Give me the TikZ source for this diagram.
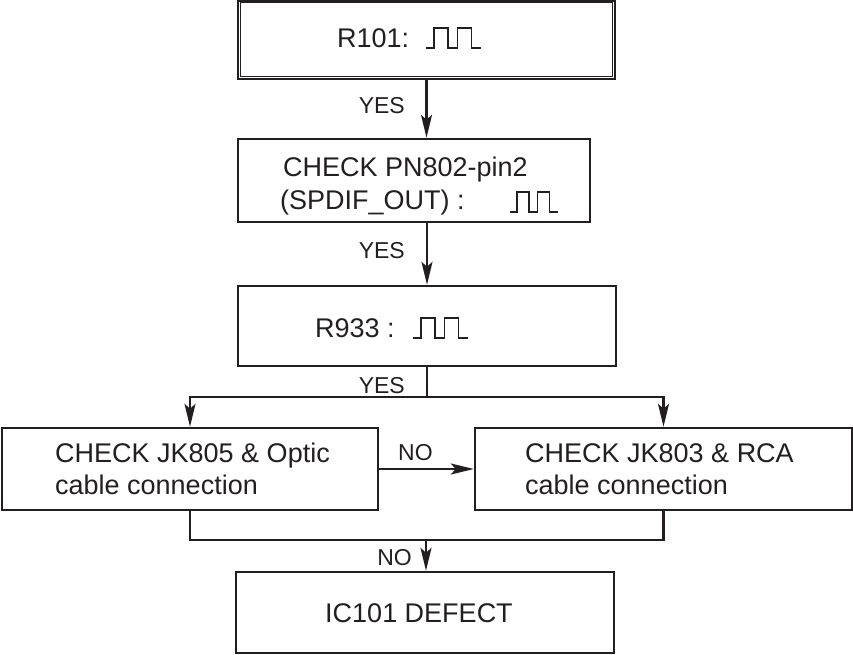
\documentclass[tikz,border=0pt]{standalone}
\usepackage{fontspec}
\setmainfont{Liberation Sans}
\usetikzlibrary{arrows.meta}
\definecolor{ink}{HTML}{231F20}
\begin{document}
\begin{tikzpicture}[x=1pt,y=-1pt,
  box/.style={draw=ink, line width=2.4pt, inner sep=0pt},
  txt/.style={text=ink, font=\fontsize{27}{32}\selectfont, inner sep=0pt},
  lbl/.style={text=ink, font=\fontsize{23}{28}\selectfont, inner sep=0pt},
  link/.style={draw=ink, line width=2.4pt, line cap=rect},
  arr/.style={link, -{Stealth[length=23pt,width=11pt,inset=5pt]}},
  pulse/.pic={\draw[ink, line width=1.3pt, line join=miter]
     (0,0) -- (8,0) -- (8,-20) -- (22,-20) -- (22,0) -- (31.5,0)
     -- (31.5,-20) -- (45.5,-20) -- (45.5,0) -- (55,0);}]
\useasboundingbox (0,0) rectangle (853,655);

% boxes
\node[box, minimum width=377pt, minimum height=78.5pt] (b1) at (426.5,39.75) {};
\draw[ink, line width=1.1pt] ([shift={(3.3,3.3)}]b1.north west) rectangle ([shift={(-3.3,-3.3)}]b1.south east);
\node[box, minimum width=352pt, minimum height=83pt] (b2) at (414,180.5) {};
\node[box, minimum width=378pt, minimum height=80pt] (b3) at (427,326) {};
\node[box, minimum width=376pt, minimum height=82pt] (b4) at (190,469) {};
\node[box, minimum width=377pt, minimum height=82pt] (b5) at (663.5,469) {};
\node[box, minimum width=378pt, minimum height=81pt] (b6) at (425,612.5) {};

% box texts
\node[txt, anchor=base west] (t1) at (337,48) {R101:};
\node[txt, anchor=base west] (t2a) at (283,177) {CHECK PN802-pin2};
\node[txt, anchor=base west] (t2b) at (280,209) {(SPDIF\_OUT) :};
\node[txt, anchor=base west] (t3) at (315,337) {R933 :};
\node[txt, anchor=base west] (t4a) at (55,462) {CHECK JK805 \& Optic};
\node[txt, anchor=base west] (t4b) at (55,494) {cable connection};
\node[txt, anchor=base west] (t5a) at (525,462) {CHECK JK803 \& RCA};
\node[txt, anchor=base west] (t5b) at (525,494) {cable connection};
\node[txt, anchor=base] (t6) at (419,622) {IC101 DEFECT};

% pulse symbols
\pic at (426,48) {pulse};
\pic[xscale=0.87] at (510,212) {pulse};
\pic at (413,338) {pulse};

% connector labels
\node[lbl, anchor=base east] (y1) at (405,114) {YES};
\node[lbl, anchor=base east] (y2) at (405,258) {YES};
\node[lbl, anchor=base east] (y3) at (405,393) {YES};
\node[lbl, anchor=base west] (n1) at (398,460) {NO};
\node[lbl, anchor=base east] (n2) at (412,565) {NO};

% connectors
\draw[arr] (b1.south) -- (b1.south |- b2.north);
\draw[arr] (b3.north |- b2.south) -- (b3.north);
\coordinate (split) at (427,397);
\draw[link] (b3.south) -- (split);
\draw[arr] (split) -| (b4.north);
\draw[arr] (split) -| (b5.north);
\draw[arr] (b4.east) -- (b5.west);
\coordinate (join) at (426,540);
\draw[link] (b4.south) |- (join) -| (b5.south);
\draw[arr] (join) -- (join |- b6.north);
\end{tikzpicture}
\end{document}
